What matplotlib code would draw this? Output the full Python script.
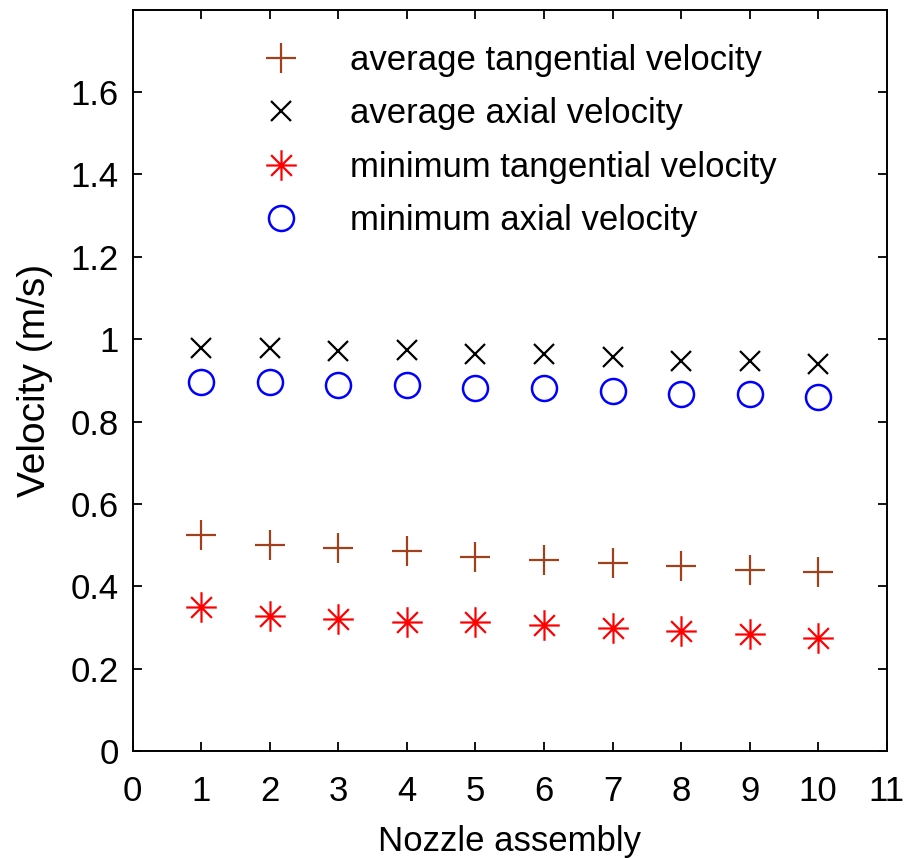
"""
Nozzle assembly velocity comparison
Average / minimum tangential and axial velocity per assembly
"""

import matplotlib
matplotlib.use("Agg")

import matplotlib.pyplot as plt
from matplotlib.path import Path
from matplotlib.ticker import FormatStrFormatter

# ==========================================
# Data
# ==========================================

nozzle = [1, 2, 3, 4, 5, 6, 7, 8, 9, 10]

avg_tangential = [0.524, 0.501, 0.493, 0.485, 0.471,
                  0.463, 0.457, 0.449, 0.441, 0.434]

avg_axial = [0.979, 0.979, 0.971, 0.973, 0.965,
             0.965, 0.957, 0.948, 0.948, 0.940]

min_tangential = [0.351, 0.329, 0.322, 0.313, 0.313,
                  0.306, 0.300, 0.292, 0.284, 0.276]

min_axial = [0.897, 0.897, 0.890, 0.889, 0.882,
             0.882, 0.874, 0.868, 0.868, 0.860]

x_ticks = list(range(0, 12))
y_ticks = [0, 0.2, 0.4, 0.6, 0.8, 1.0, 1.2, 1.4, 1.6]

# ==========================================
# Style
# ==========================================

plt.rcParams["font.family"] = ["Liberation Sans", "DejaVu Sans"]
plt.rcParams["font.size"] = 25

# MATLAB-style asterisk: a long plus with a shorter cross on top
d = 0.68
asterisk = Path(
    [(-1, 0), (1, 0), (0, -1), (0, 1),
     (-d, -d), (d, d), (-d, d), (d, -d)],
    [Path.MOVETO, Path.LINETO] * 4
)

# ==========================================
# Figure
# ==========================================

fig = plt.figure(
    figsize=(9.12, 8.58),
    dpi=100
)

ax = fig.add_axes([0.1455, 0.1244, 0.8268, 0.8645])

ax.plot(
    nozzle, avg_tangential,
    linestyle="none", marker="+",
    markersize=22, markeredgewidth=1.6,
    color="#A0401C",
    label="average tangential velocity"
)

ax.plot(
    nozzle, avg_axial,
    linestyle="none", marker="x",
    markersize=14, markeredgewidth=1.6,
    color="black",
    label="average axial velocity"
)

ax.plot(
    nozzle, min_tangential,
    linestyle="none", marker=asterisk,
    markersize=22, markeredgewidth=1.6,
    color="#FF0000",
    label="minimum tangential velocity"
)

ax.plot(
    nozzle, min_axial,
    linestyle="none", marker="o",
    markersize=18, markeredgewidth=1.8,
    markerfacecolor="none", markeredgecolor="#0000FF",
    label="minimum axial velocity"
)

# ==========================================
# Axes
# ==========================================

ax.set_xlim(0, 11)
ax.set_ylim(0, 1.8)

ax.set_xticks(x_ticks)
ax.set_yticks(y_ticks)
ax.yaxis.set_major_formatter(FormatStrFormatter("%g"))

ax.tick_params(
    direction="in",
    top=True, right=True,
    length=6.5, width=1.3,
)
ax.tick_params(axis="x", pad=17)
ax.tick_params(axis="y", pad=10)

for spine in ax.spines.values():
    spine.set_linewidth(1.4)

ax.set_xlabel("Nozzle assembly", labelpad=12)
ax.set_ylabel("Velocity (m/s)", fontsize=28, labelpad=13)

ax.legend(
    loc="upper left",
    bbox_to_anchor=(0.2546, 0.9855),
    bbox_transform=fig.transFigure,
    frameon=False,
    numpoints=1,
    handlelength=1.0,
    handletextpad=1.5,
    labelspacing=0.59,
    fontsize=25,
)

fig.savefig("out.png", dpi=100)
